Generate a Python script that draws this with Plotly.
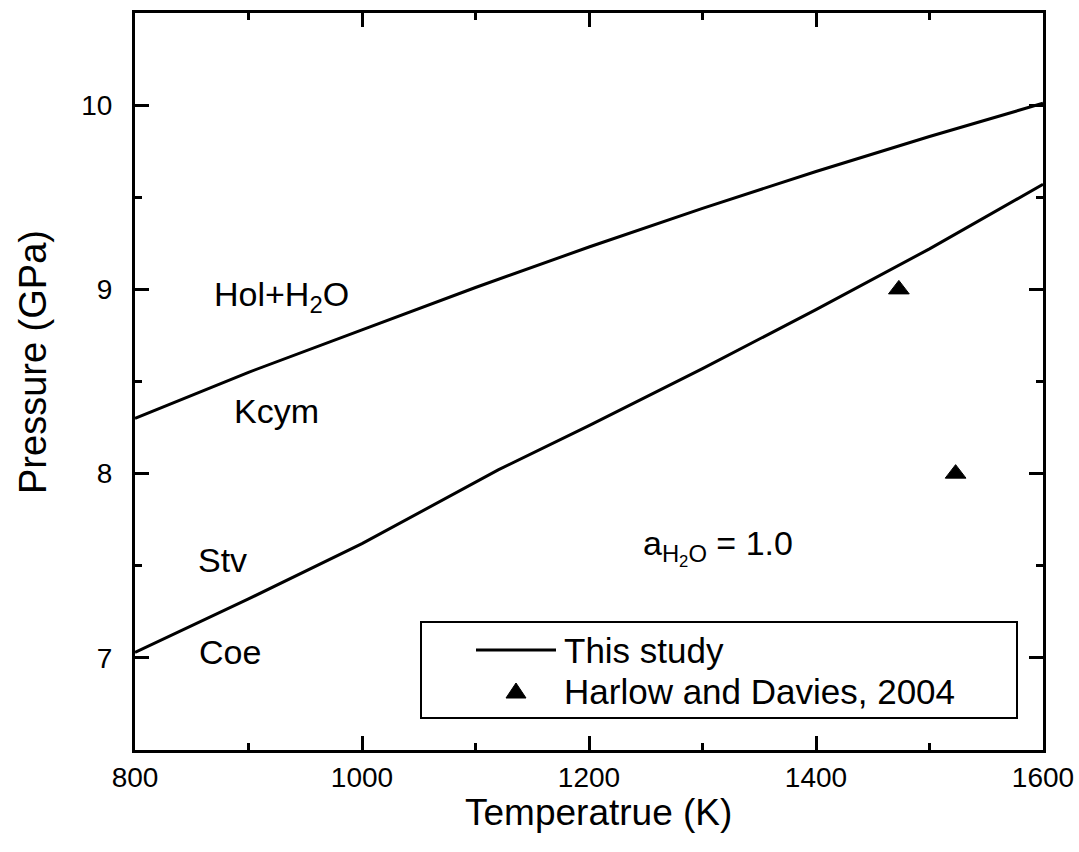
import plotly.graph_objects as go

# Phase boundary curves (T in K, P in GPa)
upper_T = [800, 900, 1000, 1100, 1200, 1300, 1400, 1500, 1600]
upper_P = [8.30, 8.55, 8.78, 9.01, 9.23, 9.44, 9.64, 9.83, 10.01]

lower_T = [800, 900, 1000, 1120, 1200, 1300, 1400, 1500, 1600]
lower_P = [7.03, 7.32, 7.62, 8.02, 8.26, 8.57, 8.89, 9.22, 9.57]

# Experimental points, Harlow and Davies (2004)
hd_T = [1473, 1523]
hd_P = [9.0, 8.0]

x_ticks = [800, 1000, 1200, 1400, 1600]
y_ticks = [7, 8, 9, 10]

FONT = "Liberation Sans, Arial, sans-serif"
LW = 3

# Plot area in pixels (for placing the hand-made legend and titles)
W, H = 1079, 852
ML, MR, MT, MB = 135, 36, 13, 102
PW, PH = W - ML - MR, H - MT - MB


def px(xp):
    return (xp - ML) / PW


def py(yp):
    return (H - MB - yp) / PH


fig = go.Figure()

fig.add_trace(go.Scatter(x=upper_T, y=upper_P, mode="lines", name="This study",
                         line=dict(color="black", width=LW), showlegend=False))
fig.add_trace(go.Scatter(x=lower_T, y=lower_P, mode="lines", name="This study",
                         line=dict(color="black", width=LW), showlegend=False))
fig.add_trace(go.Scatter(x=hd_T, y=hd_P, mode="markers", name="Harlow and Davies, 2004",
                         marker=dict(symbol="triangle-up", size=18, color="black",
                                     line=dict(color="black", width=1)),
                         showlegend=False))

axis_common = dict(
    showline=True, linecolor="black", linewidth=LW, mirror="ticks",
    ticks="inside", tickwidth=LW, tickcolor="black", ticklen=14,
    showgrid=False, zeroline=False,
    tickfont=dict(family=FONT, size=28, color="black"),
)

fig.update_xaxes(range=[800, 1600], tickvals=x_ticks,
                 minor=dict(ticks="inside", ticklen=7, tickwidth=LW, tickcolor="black", dtick=100),
                 ticklabelstandoff=0,
                 **axis_common)
fig.update_yaxes(range=[6.5, 10.5], tickvals=y_ticks,
                 minor=dict(ticks="inside", ticklen=7, tickwidth=LW, tickcolor="black", dtick=0.5),
                 ticklabelstandoff=14,
                 **axis_common)

# Axis titles
fig.add_annotation(xref="paper", yref="paper", x=px(598), y=py(812),
                   xanchor="center", yanchor="middle", text="Temperatrue (K)",
                   showarrow=False, font=dict(family=FONT, size=37, color="black"))
fig.add_annotation(xref="paper", yref="paper", x=px(33), y=py(362),
                   xanchor="center", yanchor="middle", text="Pressure (GPa)", textangle=-90,
                   showarrow=False, font=dict(family=FONT, size=38, color="black"))

# Phase field labels
labels = [
    ("Hol+H<sub>2</sub>O", 929, 8.96),
    ("Kcym", 925, 8.34),
    ("Stv", 877, 7.53),
    ("Coe", 884, 7.03),
    ("a<sub>H<sub>2</sub>O</sub> = 1.0", 1314, 7.60),
]
for text, xv, yv in labels:
    fig.add_annotation(x=xv, y=yv, text=text, showarrow=False,
                       xanchor="center", yanchor="middle",
                       font=dict(family=FONT, size=34, color="black"))

# Legend box
fig.add_shape(type="rect", xref="paper", yref="paper",
              x0=px(421), x1=px(1017), y0=py(718), y1=py(622),
              line=dict(color="black", width=2), fillcolor="white", layer="above")
fig.add_shape(type="line", xref="paper", yref="paper",
              x0=px(476), x1=px(556), y0=py(650), y1=py(650),
              line=dict(color="black", width=LW), layer="above")
tx, ty = 516, 692
fig.add_shape(type="path", xref="paper", yref="paper",
              path=f"M {px(tx-10)},{py(ty+6)} L {px(tx+10)},{py(ty+6)} L {px(tx)},{py(ty-9)} Z",
              line=dict(color="black", width=1), fillcolor="black", layer="above")
fig.add_annotation(xref="paper", yref="paper", x=px(562), y=py(650),
                   xanchor="left", yanchor="middle",
                   text="This study", showarrow=False,
                   font=dict(family=FONT, size=35, color="black"))
fig.add_annotation(xref="paper", yref="paper", x=px(562), y=py(691),
                   xanchor="left", yanchor="middle",
                   text="Harlow and Davies, 2004", showarrow=False,
                   font=dict(family=FONT, size=35, color="black"))

fig.update_layout(
    width=W, height=H,
    margin=dict(l=ML, r=MR, t=MT, b=MB, autoexpand=False),
    plot_bgcolor="white", paper_bgcolor="white",
    showlegend=False,
)

fig.write_html("out.html")
